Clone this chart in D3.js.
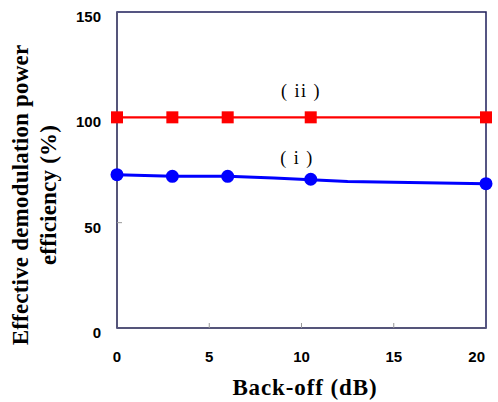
<!DOCTYPE html>
<html>
<head>
<meta charset="utf-8">
<script src="https://cdn.jsdelivr.net/npm/d3@7"></script>
<style>
  body { margin: 0; background: #fff; }
</style>
</head>
<body>
<div id="chart"></div>
<script>
// Chart data
const xTicks = [0, 5, 10, 15, 20];
const yTicks = [0, 50, 100, 150];
const markX = [0, 3, 6, 10.5, 20];
const seriesI = [72.8, 72.0, 72.0, 70.6, 68.5];
const seriesII = [100, 100, 100, 100, 100];
// Line of series (i) between markers
const lineIx = [0, 3, 6, 8.5, 10.5, 12.5, 20];
const lineIy = [72.8, 72.0, 72.0, 71.2, 70.4, 69.6, 68.5];

const W = 498, H = 402;
const margin = { top: 12, right: 12, bottom: 74, left: 117 },
      width = 486 - margin.left,
      height = 328 - margin.top;

const svg = d3.select("#chart")
    .append("svg")
    .attr("width", W)
    .attr("height", H);

const g = svg.append("g")
    .attr("transform", `translate(${margin.left},${margin.top})`);

const x = d3.scaleLinear().domain([0, 20]).range([0, width]);
const y = d3.scaleLinear().domain([0, 150]).range([height, 0]);

const frameColor = "#55557a";

// Frame
g.append("rect")
    .attr("width", width)
    .attr("height", height)
    .attr("fill", "none")
    .attr("stroke", "#1e1e5a")
    .attr("stroke-width", 1.5);
g.append("line")
    .attr("x1", 0).attr("x2", 0)
    .attr("y1", 0).attr("y2", height)
    .attr("stroke", frameColor)
    .attr("stroke-width", 2);
g.append("line")
    .attr("x1", 0).attr("x2", width)
    .attr("y1", height).attr("y2", height)
    .attr("stroke", frameColor)
    .attr("stroke-width", 2);

// Inner ticks
g.selectAll(".xt")
    .data(xTicks.slice(1, -1))
    .join("line")
    .attr("x1", d => x(d)).attr("x2", d => x(d))
    .attr("y1", height).attr("y2", height - 5)
    .attr("stroke", "#999");
g.selectAll(".yt")
    .data(yTicks.slice(1, -1))
    .join("line")
    .attr("x1", 0).attr("x2", 5)
    .attr("y1", d => y(d)).attr("y2", d => y(d))
    .attr("stroke", "#999");

// Tick labels
g.selectAll(".xl")
    .data(xTicks)
    .join("text")
    .attr("x", (d, i) => i === xTicks.length - 1 ? x(d) - 1 : x(d))
    .attr("y", height + 34)
    .attr("text-anchor", (d, i) => i === xTicks.length - 1 ? "end" : "middle")
    .style("font-family", "Liberation Sans, Arial, sans-serif")
    .style("font-weight", "bold")
    .style("font-size", "15px")
    .text(d => d);
g.selectAll(".yl")
    .data(yTicks)
    .join("text")
    .attr("x", -16)
    .attr("y", d => y(d) + 10)
    .attr("text-anchor", "end")
    .style("font-family", "Liberation Sans, Arial, sans-serif")
    .style("font-weight", "bold")
    .style("font-size", "15px")
    .text(d => d);

// Series (ii) red
g.append("path")
    .datum(markX.map((d, i) => [d, seriesII[i]]))
    .attr("fill", "none")
    .attr("stroke", "#ff0000")
    .attr("stroke-width", 2.2)
    .attr("d", d3.line().x(d => x(d[0])).y(d => y(d[1])));
g.selectAll(".sq")
    .data(markX.map((d, i) => [d, seriesII[i]]))
    .join("rect")
    .attr("x", d => x(d[0]) - 6)
    .attr("y", d => y(d[1]) - 6)
    .attr("width", 12)
    .attr("height", 12)
    .attr("fill", "#ff0000");

// Series (i) blue
g.append("path")
    .datum(lineIx.map((d, i) => [d, lineIy[i]]))
    .attr("fill", "none")
    .attr("stroke", "#0000ff")
    .attr("stroke-width", 3)
    .attr("d", d3.line().x(d => x(d[0])).y(d => y(d[1])));
g.selectAll(".dot")
    .data(markX.map((d, i) => [d, seriesI[i]]))
    .join("circle")
    .attr("cx", d => x(d[0]))
    .attr("cy", d => y(d[1]))
    .attr("r", 6.5)
    .attr("fill", "#0000ff");

// Series labels
const serif = "Liberation Serif, Times New Roman, serif";
g.append("text")
    .attr("x", 301 - margin.left)
    .attr("y", 97 - margin.top)
    .attr("text-anchor", "middle")
    .style("font-family", serif)
    .style("font-size", "18px")
    .style("letter-spacing", "1.5px")
    .text("( ii )");
g.append("text")
    .attr("x", 297 - margin.left)
    .attr("y", 164 - margin.top)
    .attr("text-anchor", "middle")
    .style("font-family", serif)
    .style("font-size", "18px")
    .style("letter-spacing", "1.5px")
    .text("( i )");

// Axis titles
svg.append("text")
    .attr("x", 305)
    .attr("y", 395)
    .attr("text-anchor", "middle")
    .style("font-family", serif)
    .style("font-weight", "bold")
    .style("font-size", "23px")
    .style("letter-spacing", "0.9px")
    .text("Back-off (dB)");

const yTitle = svg.append("text")
    .attr("transform", `translate(0, 195) rotate(-90)`)
    .attr("text-anchor", "middle")
    .style("font-family", serif)
    .style("font-weight", "bold")
    .style("font-size", "23px")
    .style("letter-spacing", "0.2px");
yTitle.append("tspan").attr("x", 0).attr("y", 28).text("Effective demodulation power");
yTitle.append("tspan").attr("x", 0).attr("y", 56).text("efficiency (%)");
</script>
</body>
</html>
